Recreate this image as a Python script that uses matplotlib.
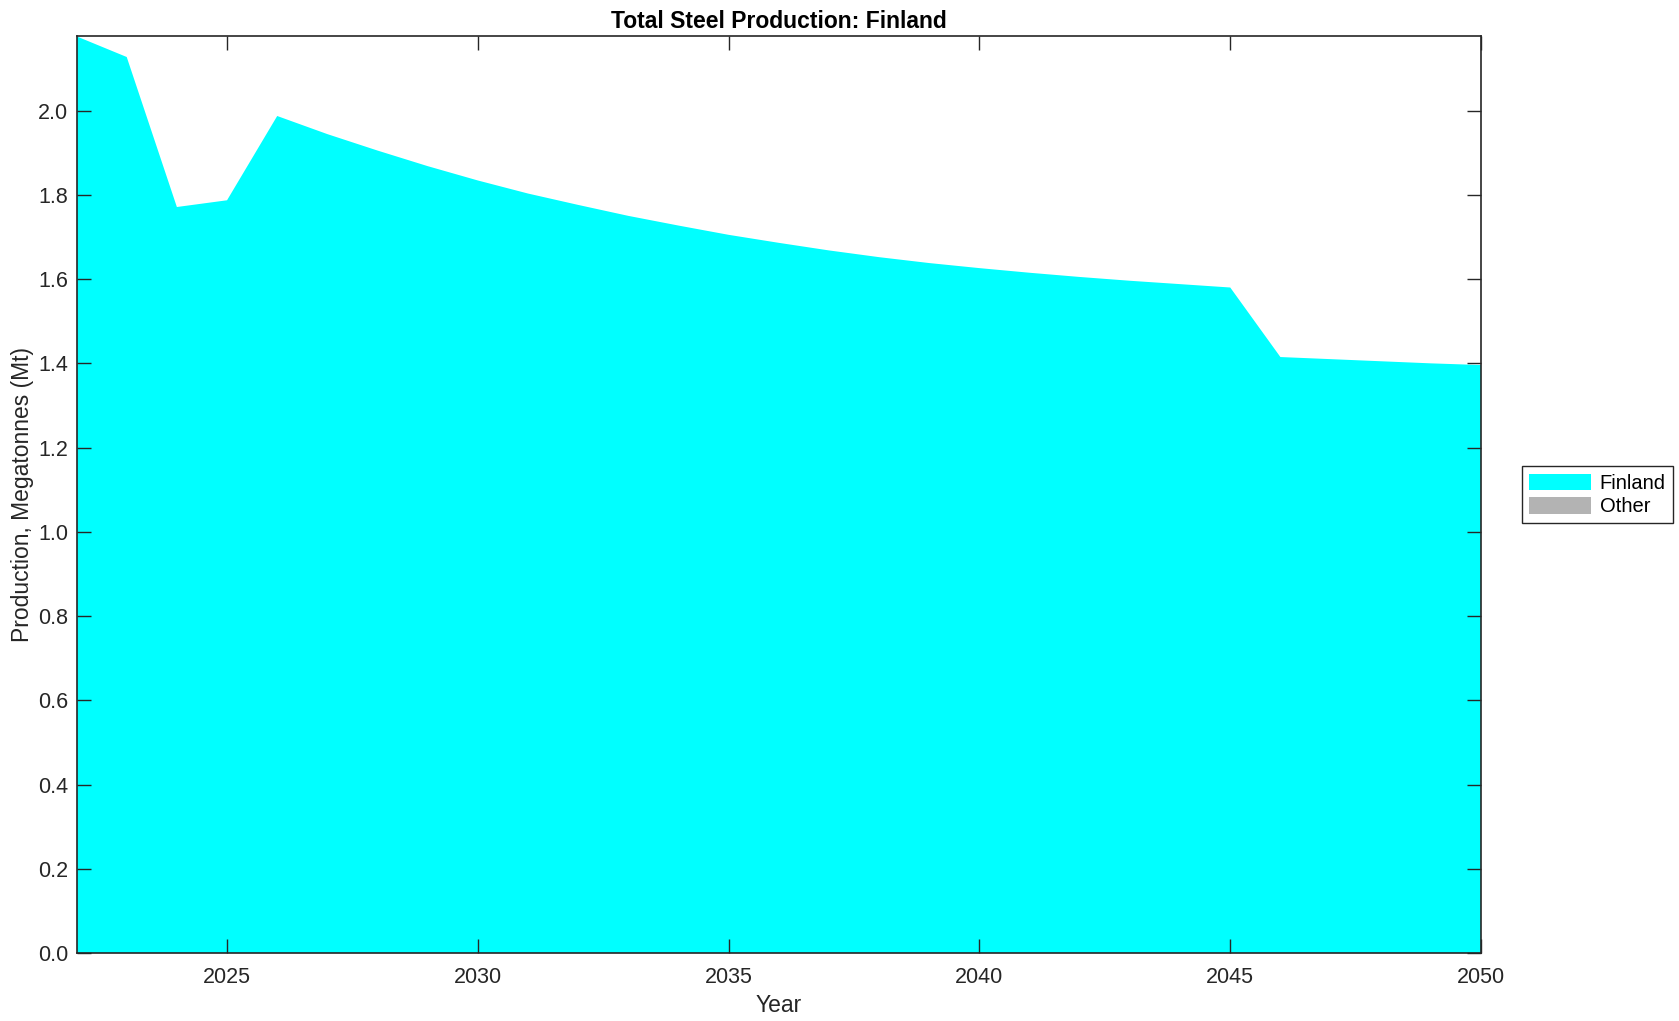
import numpy as np
import matplotlib.pyplot as plt

plt.rcParams['font.family'] = ['Liberation Sans', 'DejaVu Sans']

# data (Mt)
years = np.arange(2022, 2051)
finland = [2.176, 2.127, 1.771, 1.787, 1.987, 1.944, 1.905, 1.868, 1.834, 1.803,
           1.776, 1.750, 1.727, 1.705, 1.686, 1.668, 1.652, 1.638, 1.626, 1.615,
           1.605, 1.596, 1.588, 1.580, 1.415, 1.410, 1.405, 1.400, 1.396]
other = [0.0] * len(years)
labels = ['Finland', 'Other']
colors = ['#00ffff', '#b3b3b3']

dark = '#262626'

fig = plt.figure(figsize=(16.79, 10.21), dpi=100)
ax = fig.add_axes([0.0456, 0.0663, 0.8365, 0.8981])

ax.stackplot(years, finland, other, labels=labels, colors=colors, linewidth=0)

ax.set_xlim(2022, 2050)
ax.set_ylim(0, max(finland))
ax.set_xticks(np.arange(2025, 2051, 5))
ax.set_yticks(np.arange(0, 2.01, 0.2))
ax.yaxis.set_major_formatter(plt.FormatStrFormatter('%.1f'))

ax.tick_params(direction='in', top=True, right=True, length=10, width=1.0,
               color=dark, labelcolor=dark, labelsize=15.5)
ax.tick_params(axis='x', pad=9.5)
ax.tick_params(axis='y', pad=6)
for s in ax.spines.values():
    s.set_color(dark)
    s.set_linewidth(1.2)

ax.set_title('Total Steel Production: Finland', fontsize=16.5, fontweight='bold', pad=6)
ax.set_xlabel('Year', fontsize=16.5, color=dark, labelpad=5)
ax.set_ylabel('Production, Megatonnes (Mt)', fontsize=16.5, color=dark, labelpad=3)

leg = ax.legend(loc='center left', bbox_to_anchor=(1.022, 0.5), fontsize=14.5,
                fancybox=False, edgecolor=dark, framealpha=1,
                handlelength=3.1, handleheight=0.9, handletextpad=0.4,
                borderpad=0.35, labelspacing=0.2)
leg.get_frame().set_linewidth(1.0)

fig.savefig('out.png', dpi=100)
